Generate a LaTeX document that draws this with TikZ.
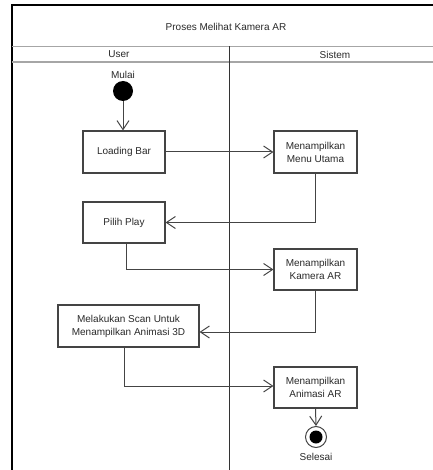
\documentclass[tikz,border=0pt]{standalone}
\usepackage{fontspec}
\setmainfont{Liberation Sans}
\usetikzlibrary{arrows.meta}
\definecolor{ln}{HTML}{444444}
\definecolor{tx}{HTML}{2A2A2A}
\tikzset{
  act/.style={draw=ln, line width=1.1pt, rectangle, align=center, text=tx, font=\fontsize{10}{13}\selectfont, inner sep=0pt},
  lbl/.style={text=tx, font=\fontsize{10}{12}\selectfont, inner sep=0pt},
  flow/.style={draw=ln, line width=1pt, -{Straight Barb[length=9pt,width=12pt,line width=1pt]}},
}
\begin{document}
\begin{tikzpicture}[x=1pt,y=-1pt]
\useasboundingbox (0,0) rectangle (432,470);
\fill[white] (0,0) rectangle (432,470);
% frame
\draw[black, line width=2pt] (11.5,471) -- (11.5,5.5) -- (433,5.5);
\draw[gray!70, line width=1.4pt] (12,46.5) -- (433,46.5);
\draw[gray!70, line width=1.4pt] (12,62) -- (433,62);
\draw[black!80, line width=1pt] (229,46.5) -- (229,471);
% texts
\node[lbl] (title) at (226,27) {Proses Melihat Kamera AR};
\node[lbl] (user) at (119,54.5) {User};
\node[lbl] (sistem) at (335,54.5) {Sistem};
\node[lbl] (mulai) at (123,75) {Mulai};
% nodes
\node[circle, fill=black, minimum size=20pt, inner sep=0pt] (start) at (123,91) {};
\node[act, minimum width=82pt, minimum height=42pt] (lb) at (124,152) {Loading Bar};
\node[act, minimum width=83pt, minimum height=42pt] (mu) at (315.5,152) {Menampilkan\\Menu Utama};
\node[act, minimum width=82pt, minimum height=41pt] (pp) at (124,222.5) {Pilih Play};
\node[act, minimum width=83pt, minimum height=41pt] (ka) at (315.5,269.5) {Menampilkan\\Kamera AR};
\node[act, minimum width=141pt, minimum height=42pt] (sc) at (128.5,326) {Melakukan Scan Untuk\\Menampilkan Animasi 3D};
\node[act, minimum width=83pt, minimum height=41pt] (aa) at (315.5,387.5) {Menampilkan\\Animasi AR};
\node[circle, draw=ln, line width=1pt, fill=white, minimum size=21pt, inner sep=0pt] (end) at (316,437) {};
\node[circle, fill=black, minimum size=13pt, inner sep=0pt] (endin) at (end.center) {};
\node[lbl] (selesai) at (316,457) {Selesai};
% flows
\draw[flow] (start.south) -- (start.south |- lb.north);
\draw[flow] (lb.east) -- (mu.west);
\draw[flow] (mu.south) |- (pp.east);
\draw[flow] ([xshift=2pt]pp.south) |- (ka.west);
\draw[flow] (ka.south) |- ([yshift=-6pt]sc.east);
\draw[flow] ([xshift=-4pt]sc.south) |- ([yshift=1.5pt]aa.west);
\draw[flow] (aa.south) -- (end.north);
\end{tikzpicture}
\end{document}
